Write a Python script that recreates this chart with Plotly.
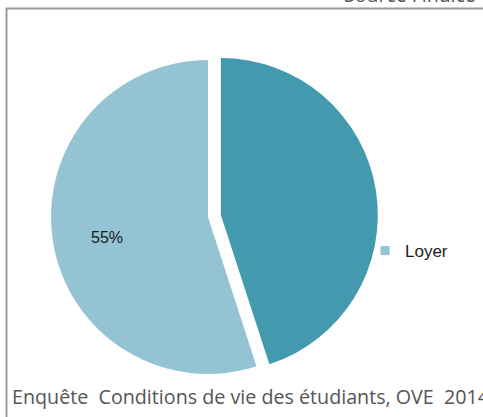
import plotly.graph_objects as go

# Data
slice_labels = ["Autres", "Loyer"]
slice_values = [45, 55]
slice_text = ["", "55%"]
slice_colors = ["#4399AE", "#94C4D4"]
slice_pull = [0.083, 0]
legend_label = "Loyer"
source_text = "Source Findice"
caption_text = "Enquête  Conditions de vie des étudiants, OVE  2014"

W, H = 483, 417

fig = go.Figure()
fig.add_trace(go.Pie(
    labels=slice_labels,
    values=slice_values,
    textinfo="none",
    marker=dict(colors=slice_colors, line=dict(width=0)),
    pull=slice_pull,
    sort=False,
    direction="clockwise",
    rotation=0,
    showlegend=False,
    hoverinfo="skip",
    domain=dict(x=[38 / W, 378 / W], y=[30 / H, 370 / H]),
))

# legend entry for "Loyer"
fig.add_trace(go.Scatter(
    x=[None], y=[None], mode="markers", name=legend_label,
    marker=dict(symbol="square", size=9, color=slice_colors[1]),
    showlegend=True,
))

fig.update_layout(
    width=W, height=H,
    margin=dict(l=0, r=0, t=0, b=0),
    paper_bgcolor="white",
    plot_bgcolor="white",
    xaxis=dict(visible=False),
    yaxis=dict(visible=False),
    legend=dict(
        x=365 / W, y=1 - 251 / H, xanchor="left", yanchor="middle",
        font=dict(family="Liberation Sans", size=17, color="#1a1a1a"),
        bgcolor="rgba(0,0,0,0)", itemwidth=30,
    ),
    shapes=[
        dict(type="line", xref="paper", yref="paper",
             x0=6 / W, x1=1.05, y0=1 - 8.5 / H, y1=1 - 8.5 / H,
             line=dict(color="#9a9a9a", width=2)),
        dict(type="line", xref="paper", yref="paper",
             x0=6.5 / W, x1=6.5 / W, y0=1 - 8 / H, y1=-0.05,
             line=dict(color="#9a9a9a", width=2)),
    ],
    annotations=[
        dict(text=slice_text[1], xref="paper", yref="paper",
             x=107 / W, y=1 - 237 / H, xanchor="center", yanchor="middle",
             showarrow=False,
             font=dict(family="Liberation Sans", size=16, color="#1a1a1a")),
        dict(text=source_text, xref="paper", yref="paper",
             x=478 / W, y=1 - 10 / H, xanchor="right", yanchor="bottom",
             showarrow=False,
             font=dict(family="Open Sans", size=19.5, color="#555555")),
        dict(text=caption_text, xref="paper", yref="paper",
             x=10 / W, y=1 - 396 / H, xanchor="left", yanchor="middle",
             showarrow=False,
             font=dict(family="Open Sans", size=19.7, color="#555555")),
    ],
)

fig.write_html(
    "out.html",
    config={"displayModeBar": False, "staticPlot": True},
    post_script="document.body.style.margin='0px';document.body.style.overflow='hidden';",
)
